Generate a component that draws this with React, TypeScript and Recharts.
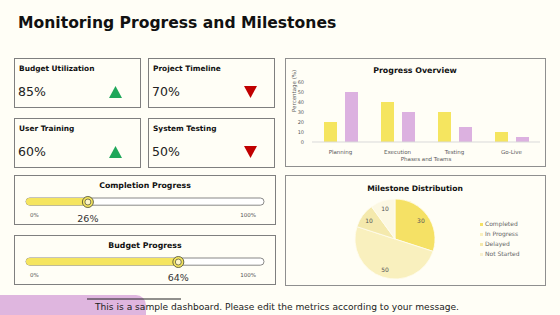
import React from "react";
import {
  BarChart,
  Bar,
  XAxis,
  YAxis,
  PieChart,
  Pie,
  Cell,
  Legend,
  ReferenceDot,
} from "recharts";

// KPI tiles
const kpiLabels = ["Budget Utilization", "Project Timeline", "User Training", "System Testing"];
const kpiValues = [85, 70, 60, 50];
const kpiTrend = ["up", "down", "up", "down"];

// progress sliders
const progressLabels = ["Completion Progress", "Budget Progress"];
const progressValues = [26, 64];

// progress overview
const phases = ["Planning", "Execution", "Testing", "Go-Live"];
const seriesA = [20, 40, 30, 10];
const seriesB = [50, 30, 15, 5];
const yTicks = [0, 10, 20, 30, 40, 50, 60];

// milestone distribution
const milestoneNames = ["Completed", "In Progress", "Delayed", "Not Started"];
const milestoneValues = [30, 50, 10, 10];
const milestoneColors = ["#f5e165", "#f9f0be", "#f4e9ad", "#fcf8e3"];

const FONT = "'DejaVu Sans', sans-serif";
const YELLOW = "#f5e55f";
const PINK = "#dcb1e0";

const barData = phases.map((p, i) => ({ name: p, a: seriesA[i], b: seriesB[i] }));
const pieData = milestoneNames.map((n, i) => ({ name: n, value: milestoneValues[i] }));

const RAD = Math.PI / 180;
const pieLabel = (props: any) => {
  const { cx, cy, midAngle, outerRadius, value } = props;
  const r = outerRadius * 0.8;
  const x = cx + r * Math.cos(-midAngle * RAD);
  const y = cy + r * Math.sin(-midAngle * RAD);
  return (
    <text x={x} y={y} fill="#555" fontSize={6} textAnchor="middle" dominantBaseline="central" fontFamily={FONT}>
      {value}
    </text>
  );
};

// legend drawn in data order
const pieLegend = () => (
  <div style={{ fontFamily: FONT, fontSize: 6, color: "#666", lineHeight: "10px" }}>
    {milestoneNames.map((n, i) => (
      <div key={n} style={{ display: "flex", alignItems: "center" }}>
        <span style={{ width: 3, height: 3, background: milestoneColors[i] === "#fcf8e3" ? "#f8f1d0" : milestoneColors[i], marginRight: 2 }} />
        <span>{n}</span>
      </div>
    ))}
  </div>
);

const Slider = ({ value, left, top }: { value: number; left: number; top: number }) => {
  const data = [{ name: "p", value }];
  return (
    <div style={{ position: "absolute", left, top }}>
      <BarChart width={246} height={16} data={data} layout="vertical" margin={{ top: 4, right: 4, bottom: 4, left: 4 }}>
        <XAxis type="number" domain={[0, 100]} hide />
        <YAxis type="category" dataKey="name" hide />
        <Bar
          dataKey="value"
          fill={YELLOW}
          barSize={8}
          radius={[4, 0, 0, 4]}
          background={{ fill: "#ffffff", stroke: "#6b6b6b", strokeWidth: 0.8, radius: 4 } as any}
          isAnimationActive={false}
        />
        <ReferenceDot x={value} y="p" r={5.5} fill={YELLOW} stroke="#5a5a3a" strokeWidth={0.9} ifOverflow="visible" />
        <ReferenceDot x={value} y="p" r={3} fill="#fdf6c8" stroke="#5a5a3a" strokeWidth={0.8} ifOverflow="visible" />
      </BarChart>
    </div>
  );
};

const Triangle = ({ x, y, up }: { x: number; y: number; up: boolean }) =>
  up ? (
    <polygon points={`${x},${y + 12} ${x + 6.5},${y} ${x + 13},${y + 12}`} fill="#1fa75a" />
  ) : (
    <polygon points={`${x},${y} ${x + 13},${y} ${x + 6.5},${y + 12}`} fill="#c00000" />
  );

export default function App() {
  const kpiPos = [
    { x: 14, y: 58 },
    { x: 148, y: 58 },
    { x: 14, y: 118 },
    { x: 148, y: 118 },
  ];
  const sliderTops = [175, 235];

  return (
    <div
      style={{
        position: "fixed",
        left: 0,
        top: 0,
        width: 560,
        height: 315,
        background: "#fffef6",
        overflow: "hidden",
        fontFamily: FONT,
      }}
    >
      <svg width={560} height={315} style={{ position: "absolute", left: 0, top: 0 }}>
        <text x={18} y={23} fontSize={15.6} fontWeight="bold" fill="#111" dominantBaseline="central" fontFamily={FONT}>
          Monitoring Progress and Milestones
        </text>

        {kpiPos.map((p, i) => (
          <g key={kpiLabels[i]}>
            <rect x={p.x + 0.5} y={p.y + 0.5} width={126} height={49} fill="none" stroke="#7f7f7f" strokeWidth={1} />
            <text x={p.x + 5} y={p.y + 10} fontSize={7.4} fontWeight="bold" fill="#111" dominantBaseline="central" fontFamily={FONT}>
              {kpiLabels[i]}
            </text>
            <text x={p.x + 4} y={p.y + 33.5} fontSize={12.5} fill="#222" dominantBaseline="central" fontFamily={FONT}>
              {kpiValues[i]}%
            </text>
            <Triangle x={p.x + (i % 2 === 0 ? 95 : 96)} y={p.y + 28} up={kpiTrend[i] === "up"} />
          </g>
        ))}

        {sliderTops.map((t, i) => (
          <g key={progressLabels[i]}>
            <rect x={14.5} y={t + 0.5} width={261} height={49} fill="none" stroke="#7f7f7f" strokeWidth={1} />
            <text x={145} y={t + 10} fontSize={7.8} fontWeight="bold" fill="#111" textAnchor="middle" dominantBaseline="central" fontFamily={FONT}>
              {progressLabels[i]}
            </text>
            <text x={30} y={t + 40} fontSize={5.5} fill="#555" dominantBaseline="central" fontFamily={FONT}>
              0%
            </text>
            <text x={256} y={t + 40} fontSize={5.5} fill="#555" textAnchor="end" dominantBaseline="central" fontFamily={FONT}>
              100%
            </text>
            <text
              x={26 + (progressValues[i] / 100) * 238}
              y={t + (i === 0 ? 43 : 42)}
              fontSize={9.5}
              fill="#333"
              textAnchor="middle"
              dominantBaseline="central"
              fontFamily={FONT}
            >
              {progressValues[i]}%
            </text>
          </g>
        ))}

        <rect x={285.5} y={58.5} width={260} height={108} fill="none" stroke="#8f8f8f" strokeWidth={1} />
        <rect x={285.5} y={175.5} width={260} height={110} fill="none" stroke="#8f8f8f" strokeWidth={1} />
        <text x={415} y={70} fontSize={7.9} fontWeight="bold" fill="#111" textAnchor="middle" dominantBaseline="central" fontFamily={FONT}>
          Progress Overview
        </text>
        <text x={415} y={188} fontSize={7.6} fontWeight="bold" fill="#111" textAnchor="middle" dominantBaseline="central" fontFamily={FONT}>
          Milestone Distribution
        </text>

        <rect x={-12} y={295} width={158} height={30} rx={10} fill="#dfb6df" />
        <line x1={87} y1={299} x2={181} y2={299} stroke="#222" strokeWidth={1} />
        <text x={95} y={307} fontSize={9.1} fill="#222" dominantBaseline="central" fontFamily={FONT}>
          This is a sample dashboard. Please edit the metrics according to your message.
        </text>
      </svg>

      {progressValues.map((v, i) => (
        <Slider key={i} value={v} left={22} top={sliderTops[i] + 19} />
      ))}

      <div style={{ position: "absolute", left: 285, top: 58 }}>
        <BarChart
          width={261}
          height={108}
          data={barData}
          margin={{ top: 24, right: 6, bottom: 0, left: 0 }}
          barGap={8}
          barSize={13}
        >
          <XAxis
            dataKey="name"
            tick={{ fontSize: 5.5, fill: "#595959", fontFamily: FONT }}
            tickLine={false}
            axisLine={{ stroke: "#d9d9d9" }}
            height={24}
            tickMargin={2}
            label={{ value: "Phases and Teams", position: "insideBottom", offset: 5, fontSize: 5.5, fill: "#595959", fontFamily: FONT }}
          />
          <YAxis
            domain={[0, 60]}
            ticks={yTicks}
            interval={0}
            width={27}
            tick={{ fontSize: 5, fill: "#595959", fontFamily: FONT }}
            tickLine={false}
            axisLine={false}
            label={{ value: "Percentage (%)", angle: -90, position: "insideLeft", offset: 9, fontSize: 5.5, fill: "#595959", fontFamily: FONT }}
          />
          <Bar dataKey="a" fill={YELLOW} isAnimationActive={false} />
          <Bar dataKey="b" fill={PINK} isAnimationActive={false} />
        </BarChart>
      </div>

      <div style={{ position: "absolute", left: 285, top: 175 }}>
        <PieChart width={261} height={110} margin={{ top: 0, right: 0, bottom: 0, left: 0 }}>
          <Pie
            data={pieData}
            dataKey="value"
            nameKey="name"
            cx={110}
            cy={64}
            outerRadius={40}
            startAngle={90}
            endAngle={-270}
            stroke="#fffdf0"
            strokeWidth={0.8}
            label={pieLabel}
            labelLine={false}
            isAnimationActive={false}
          >
            {pieData.map((d, i) => (
              <Cell key={d.name} fill={milestoneColors[i]} />
            ))}
          </Pie>
          <Legend
            layout="vertical"
            verticalAlign="top"
            align="right"
            content={pieLegend}
            wrapperStyle={{ left: 195, top: 44, right: "auto", width: 60 }}
          />
        </PieChart>
      </div>
    </div>
  );
}
